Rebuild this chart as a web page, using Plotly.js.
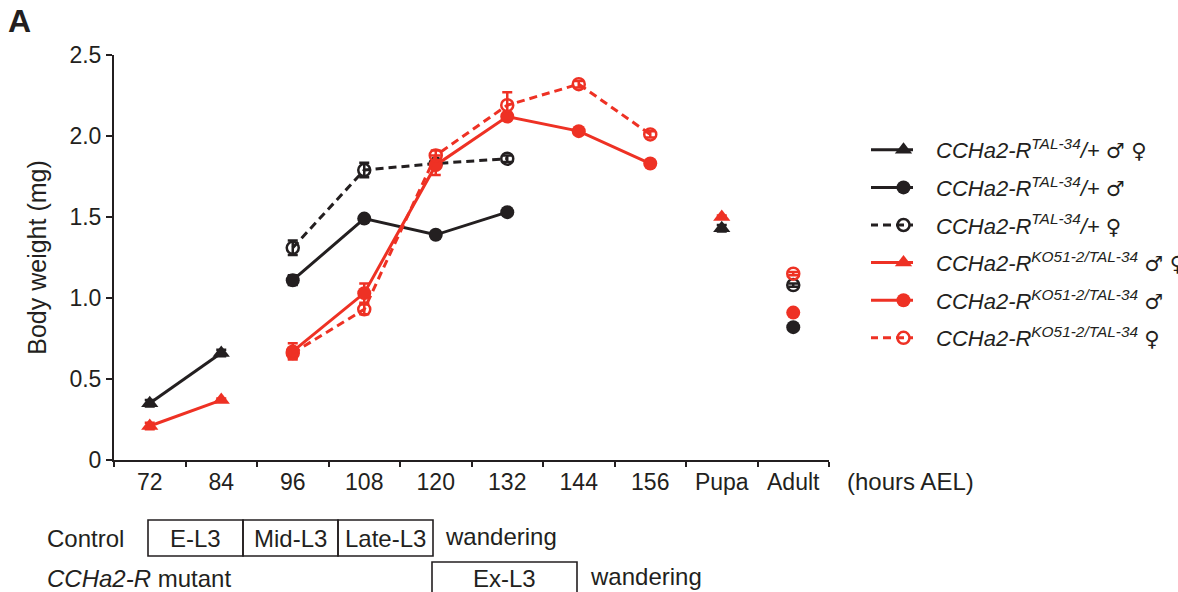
<!DOCTYPE html>
<html><head><meta charset="utf-8">
<script src="https://cdn.plot.ly/plotly-3.0.1.min.js"></script>
<style>html,body{margin:0;padding:0;background:#fff}</style>
</head><body><div id="chart" style="width:1178px;height:592px"></div>
<script>
const categories = ['72','84','96','108','120','132','144','156','Pupa','Adult'];
// Control (CCHa2-R TAL-34/+)
const ctrlBoth   = [0.35, 0.66, null, null, null, null, null, null, 1.43, null];
const ctrlBothErr= [0.02, 0.02, 0, 0, 0, 0, 0, 0, 0.02, 0];
const ctrlMale   = [null, null, 1.11, 1.49, 1.39, 1.53, null, null, null, 0.82];
const ctrlMaleErr= [0, 0, 0.03, 0.02, 0.02, 0.02, 0, 0, 0, 0.01];
const ctrlFem    = [null, null, 1.31, 1.79, 1.83, 1.86, null, null, null, 1.08];
const ctrlFemErr = [0, 0, 0.045, 0.045, 0.02, 0.02, 0, 0, 0, 0.01];
// Mutant (CCHa2-R KO51-2/TAL-34)
const mutBoth    = [0.21, 0.37, null, null, null, null, null, null, 1.50, null];
const mutBothErr = [0.02, 0.01, 0, 0, 0, 0, 0, 0, 0.01, 0];
const mutMale    = [null, null, 0.67, 1.03, 1.82, 2.12, 2.03, 1.83, null, 0.91];
const mutMaleErr = [0, 0, 0.05, 0.06, 0.06, 0.02, 0.02, 0.02, 0, 0.01];
const mutFem     = [null, null, 0.66, 0.93, 1.88, 2.19, 2.32, 2.01, null, 1.15];
const mutFemErr  = [0, 0, 0.03, 0.03, 0.03, 0.08, 0.02, 0.02, 0, 0.01];

const SX = s => '<span style="font-family:DejaVu Sans;font-size:21px">' + s + '</span>';
const names = [
  '<i>CCHa2-R</i><sup><i>TAL-34</i></sup><i>/+</i> ' + SX('♂ ♀'),
  '<i>CCHa2-R</i><sup><i>TAL-34</i></sup><i>/+</i> ' + SX('♂'),
  '<i>CCHa2-R</i><sup><i>TAL-34</i></sup><i>/+</i> ' + SX('♀'),
  '<i>CCHa2-R</i><sup><i>KO51-2/TAL-34</i></sup> ' + SX('♂ ♀'),
  '<i>CCHa2-R</i><sup><i>KO51-2/TAL-34</i></sup> ' + SX('♂'),
  '<i>CCHa2-R</i><sup><i>KO51-2/TAL-34</i></sup> ' + SX('♀')
];

const BLACK = '#231f20', RED = '#ee3124';
function tr(y, err, name, color, symbol, dash, size, grp){
  const open = symbol.indexOf('open') >= 0;
  return {
    type:'scatter', mode:'lines+markers', x:categories, y:y, name:name,
    legendgroup:grp, connectgaps:false, cliponaxis:false,
    line:{color:color, width:3, dash:dash},
    marker:{symbol:symbol, size:size, color:color, line:{color:color, width: open?2.5:0}},
    error_y:{type:'data', array:err, visible:true, color:color, thickness:2.5, width:5}
  };
}
const data = [
  tr(ctrlBoth, ctrlBothErr, names[0], BLACK, 'triangle-up', 'solid', 15, 'g1'),
  tr(ctrlMale, ctrlMaleErr, names[1], BLACK, 'circle', 'solid', 14, 'g2'),
  tr(ctrlFem,  ctrlFemErr,  names[2], BLACK, 'circle-open', '8px,5px', 12, 'g3'),
  tr(mutBoth,  mutBothErr,  names[3], RED, 'triangle-up', 'solid', 15, 'g4'),
  tr(mutMale,  mutMaleErr,  names[4], RED, 'circle', 'solid', 14, 'g5'),
  tr(mutFem,   mutFemErr,   names[5], RED, 'circle-open', '8px,5px', 12, 'g6')
];

const W = 715, H = 405, L = 114, B = 460;
const px = v => (v - L) / W;
const py = v => (B - v) / H;
const FONT = 'Liberation Sans, Arial, Helvetica, sans-serif';
const txt = (text, x, y, xa, size) => ({text:text, xref:'paper', yref:'paper', x:px(x), y:py(y),
  xanchor:xa, yanchor:'middle', showarrow:false, font:{size:size||24, color:BLACK, family:FONT}});
const box = (x0, x1, y0, y1) => ({type:'rect', xref:'paper', yref:'paper', x0:px(x0), x1:px(x1),
  y0:py(y0), y1:py(y1), line:{color:BLACK, width:1.6}, fillcolor:'rgba(0,0,0,0)'});

const layout = {
  width:1178, height:592,
  margin:{l:L, r:1178-L-W, t:B-H, b:592-B, autoexpand:false},
  paper_bgcolor:'#fff', plot_bgcolor:'#fff',
  font:{family:FONT, size:23, color:BLACK},
  showlegend:true,
  legend:{x:px(871), y:py(129), xanchor:'left', yanchor:'top', traceorder:'grouped', tracegroupgap:6,
    itemwidth:55, font:{size:22, color:BLACK}, bgcolor:'rgba(0,0,0,0)'},
  xaxis:{type:'category', categoryorder:'array', categoryarray:categories, range:[-0.5, 9.5],
    showline:true, linecolor:BLACK, linewidth:2, ticks:'outside', tickson:'boundaries',
    ticklen:5, tickwidth:2, tickcolor:BLACK, showgrid:false, zeroline:false,
    tickfont:{size:23, color:BLACK}},
  yaxis:{range:[0, 2.5], tickvals:[0,0.5,1,1.5,2,2.5], ticktext:['0','0.5','1.0','1.5','2.0','2.5'],
    showline:true, linecolor:BLACK, linewidth:2, ticks:'outside', ticklen:6, tickwidth:2,
    tickcolor:BLACK, showgrid:false, zeroline:false, tickfont:{size:23, color:BLACK},
    title:{text:'Body weight (mg)', font:{size:25, color:BLACK}, standoff:16}},
  shapes:[
    box(148, 243, 520, 556), box(243, 338, 520, 556), box(338, 433, 520, 556),
    box(432, 577, 562, 600)
  ],
  annotations:[
    {text:'<b>A</b>', xref:'paper', yref:'paper', x:px(6), y:py(21), xanchor:'left', yanchor:'middle',
     showarrow:false, font:{size:32, color:BLACK, family:FONT}},
    txt('(hours AEL)', 845, 481, 'left'),
    txt('Control', 45, 538, 'left'),
    txt('E-L3', 195.5, 538, 'center'),
    txt('Mid-L3', 290.5, 538, 'center'),
    txt('Late-L3', 385.5, 538, 'center'),
    txt('wandering', 443, 536, 'left'),
    txt('<i>CCHa2-R</i> mutant', 45, 578, 'left'),
    txt('Ex-L3', 504.5, 578, 'center'),
    txt('wandering', 588, 576, 'left')
  ]
};
Plotly.newPlot('chart', data, layout, {displayModeBar:false, staticPlot:true}).then(gd => {
  // lengthen legend line samples to match the reference style
  gd.querySelectorAll('.legend .legendlines path').forEach(p => p.setAttribute('d', 'M-1,0h43'));
});
</script></body></html>
